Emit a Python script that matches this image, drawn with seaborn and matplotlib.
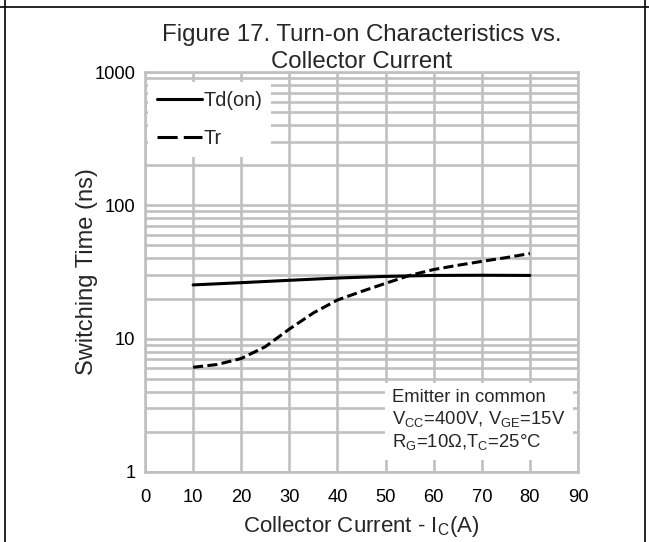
import matplotlib
matplotlib.use("Agg")
import matplotlib.pyplot as plt
import seaborn as sns
import pandas as pd
import numpy as np
from matplotlib.lines import Line2D

# ---- data ----
ic_td = [10, 20, 30, 40, 50, 60, 70, 80]
td_on = [25.3, 26.3, 27.4, 28.5, 29.3, 29.8, 29.9, 29.8]

ic_tr = [10, 15, 20, 25, 30, 35, 40, 45, 50, 55, 60, 65, 70, 75, 80]
tr = [6.1, 6.4, 7.1, 8.7, 11.8, 15.6, 19.5, 22.6, 26.0, 29.8, 33.0, 35.5, 38.0, 40.5, 43.5]

x_ticks = [0, 10, 20, 30, 40, 50, 60, 70, 80, 90]
y_ticks = [1, 10, 100, 1000]
y_tick_labels = ["1", "10", "100", "1000"]

title = "Figure 17. Turn-on Characteristics vs.\nCollector Current"
x_label = "Collector Current - I$_{\\mathrm{C}}$(A)"
y_label = "Switching Time (ns)"
note_lines = ["Emitter in common",
              "V$_{\\mathrm{CC}}$=400V, V$_{\\mathrm{GE}}$=15V",
              "R$_{\\mathrm{G}}$=10\u03a9,T$_{\\mathrm{C}}$=25\u00b0C"]

df = pd.concat([
    pd.DataFrame({"Ic": ic_td, "t": td_on, "series": "Td(on)"}),
    pd.DataFrame({"Ic": ic_tr, "t": tr, "series": "Tr"}),
])

sns.set_style("white")
plt.rcParams["font.family"] = ["Liberation Sans", "DejaVu Sans"]
plt.rcParams["mathtext.fontset"] = "custom"
plt.rcParams["mathtext.rm"] = "Liberation Sans"
plt.rcParams["mathtext.it"] = "Liberation Sans:italic"
plt.rcParams["mathtext.bf"] = "Liberation Sans:bold"

fig = plt.figure(figsize=(6.49, 5.42), dpi=100)
ax = fig.add_axes([145 / 649, 1 - 472 / 542, (578 - 145) / 649, 400 / 542])

grid_c = "#c0c0c0"
sns.lineplot(data=df, x="Ic", y="t", hue="series", style="series",
             palette={"Td(on)": "black", "Tr": "black"},
             dashes={"Td(on)": "", "Tr": (3.3, 1.4)},
             linewidth=2.2, ax=ax, legend=False, zorder=5)

ax.set_yscale("log")
ax.set_xlim(0, 90)
ax.set_ylim(1, 1000)
ax.set_xticks(x_ticks)
ax.set_xticklabels([str(v) for v in x_ticks])
ax.set_yticks(y_ticks)
ax.set_yticklabels(y_tick_labels)
ax.yaxis.set_minor_locator(matplotlib.ticker.LogLocator(base=10, subs=np.arange(2, 10)))
ax.yaxis.set_minor_formatter(matplotlib.ticker.NullFormatter())
ax.grid(True, which="both", axis="y", color=grid_c, linewidth=1.9)
ax.grid(True, which="major", axis="x", color=grid_c, linewidth=1.9)
ax.set_axisbelow(True)
for s in ax.spines.values():
    s.set_color(grid_c)
    s.set_linewidth(1.9)
ax.tick_params(which="both", length=0, labelsize=13.2, colors="black")
ax.tick_params(axis="y", pad=7)
ax.tick_params(axis="x", pad=12)

ax.set_xlabel(x_label, fontsize=16)
ax.xaxis.set_label_coords(0.5, -0.106)
ax.set_ylabel(y_label, fontsize=17)
ax.yaxis.set_label_coords(-0.108, 0.5)
ax.set_title(title, fontsize=17.3, pad=3, linespacing=1.28)

# legend
handles = [Line2D([], [], color="black", lw=2.2),
           Line2D([], [], color="black", lw=2.2, dashes=(6.6, 2.0))]
leg = ax.legend(handles, ["Td(on)", "Tr"], loc="upper left",
                bbox_to_anchor=(0.006, 0.975), frameon=True, fancybox=False,
                framealpha=1, edgecolor="white", facecolor="white",
                fontsize=14.3, handlelength=2.3, handletextpad=0.05,
                labelspacing=0.95, borderpad=0.45, borderaxespad=0.0)
leg.get_frame().set_linewidth(0)
leg.set_zorder(6)

# note box
ax.text(0.571, 0.128, "\n".join(note_lines), transform=ax.transAxes,
        fontsize=13.3, va="center", ha="left", linespacing=1.2, zorder=7,
        bbox=dict(boxstyle="square,pad=0.4", facecolor="white",
                  edgecolor="none"))

# figure frame lines (cell borders)
fig.add_artist(Line2D([0, 1], [1 - 7 / 542, 1 - 7 / 542], transform=fig.transFigure,
                      color="black", lw=1.2))
fig.add_artist(Line2D([4.5 / 649, 4.5 / 649], [0, 1], transform=fig.transFigure,
                      color="black", lw=1.2))
fig.add_artist(Line2D([645 / 649, 645 / 649], [0, 1], transform=fig.transFigure,
                      color="black", lw=1.2))

fig.savefig("out.png", dpi=100)
